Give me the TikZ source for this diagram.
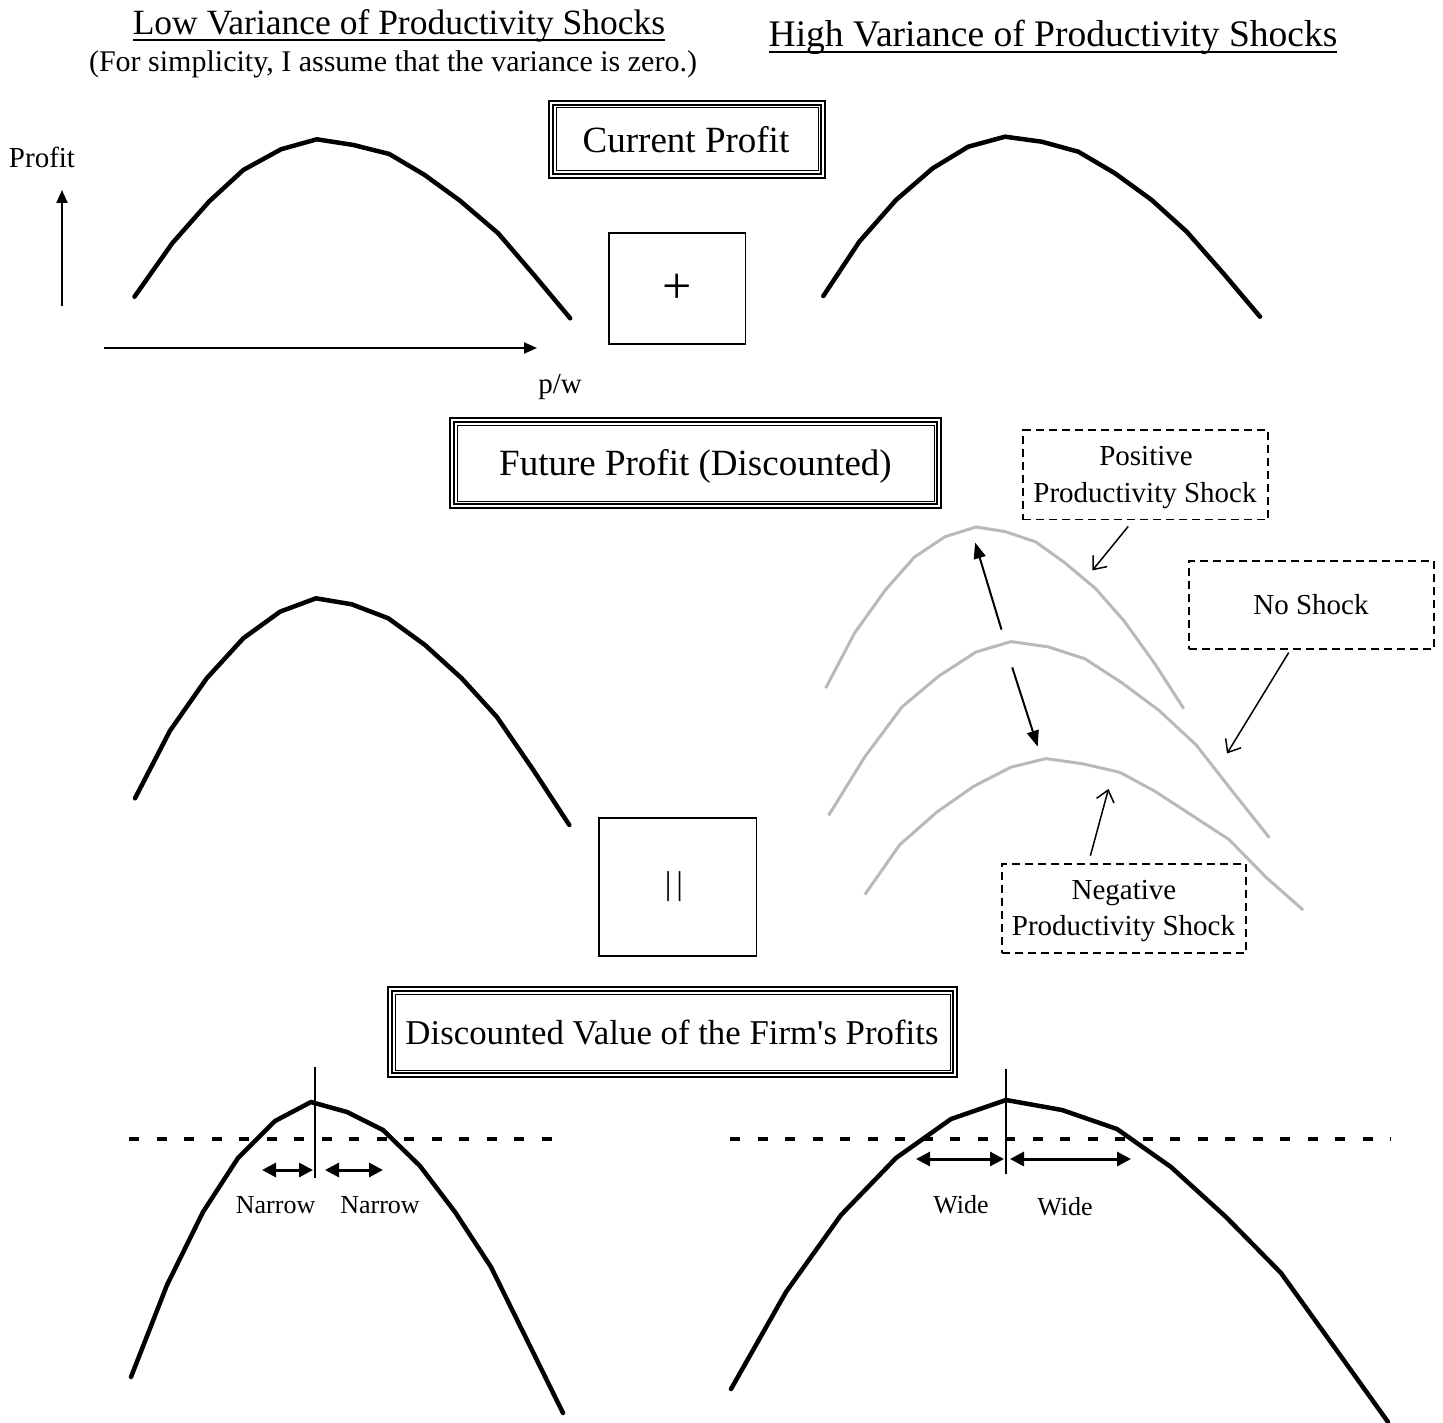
\documentclass[tikz,border=0pt]{standalone}
\usepackage{fontspec}
\setmainfont{Liberation Serif}[Ligatures=TeXOff]
\usetikzlibrary{arrows.meta}
\tikzset{
  pcurve/.style={line width=4.5pt, line join=round, line cap=round},
  gcurve/.style={line width=3pt, draw={rgb,255:red,185;green,185;blue,185}},
  txt/.style={inner sep=0pt, outer sep=0pt, anchor=base},
  lbl/.style={txt, font=\fontsize{29}{35}\selectfont},
  smalllbl/.style={txt, font=\fontsize{26}{31}\selectfont},
  tribox/.style={inner sep=0pt, outer sep=0pt, minimum width=#1},
  plainbox/.style={draw, line width=1.5pt, inner sep=0pt, outer sep=0pt},
  dbox/.style={draw, line width=1.5pt, dash pattern=on 8pt off 5pt, inner sep=0pt, outer sep=0pt},
  axisarrow/.style={line width=2pt, -{Triangle[length=13pt,width=11pt]}},
  shiftarrow/.style={line width=2pt, -{Triangle[length=16pt,width=12pt]}},
  ptr/.style={line width=1.5pt, -{Straight Barb[length=11pt,width=18pt]}},
  spanarrow/.style={line width=3pt, {Triangle[length=14pt,width=14pt]}-{Triangle[length=14pt,width=14pt]}},
  vmark/.style={line width=2pt},
  levelline/.style={line width=4.5pt, dash pattern=on 10pt off 17.5pt},
}
\begin{document}
\begin{tikzpicture}[x=1pt, y=-1pt]
\useasboundingbox (0,0) rectangle (1443,1423);

% titles
\node[txt, font=\fontsize{35.5}{42}\selectfont] (lt) at (399,35) {Low Variance of Productivity Shocks};
\draw[line width=1.5pt] ([yshift=-5pt]lt.base west) -- ([yshift=-5pt]lt.base east);
\node[txt, font=\fontsize{30}{35}\selectfont] (st) at (393,72) {(For simplicity, I assume that the variance is zero.)};
\node[txt, font=\fontsize{37.5}{44}\selectfont] (ht) at (1053,47) {High Variance of Productivity Shocks};
\draw[line width=1.5pt] ([yshift=-5pt]ht.base west) -- ([yshift=-5pt]ht.base east);

% triple-frame boxes
\node[tribox=278pt, minimum height=79pt] (cp) at (687,139.5) {};
\node[tribox=493pt, minimum height=92pt] (fp) at (695.5,463) {};
\node[tribox=571pt, minimum height=92pt] (dv) at (672.5,1032) {};
\foreach \n in {cp,fp,dv}{
  \draw[line width=2.3pt] ([shift={(1,1)}]\n.north west) rectangle ([shift={(-1,-1)}]\n.south east);
  \draw[line width=2pt] ([shift={(4.6,4.6)}]\n.north west) rectangle ([shift={(-4.6,-4.6)}]\n.south east);
  \draw[line width=1pt] ([shift={(8,8)}]\n.north west) rectangle ([shift={(-8,-8)}]\n.south east);
}
\node[txt, font=\fontsize{37}{44}\selectfont] (cpt) at (686,153) {Current Profit};
\node[txt, font=\fontsize{37}{44}\selectfont] (fpt) at (695.5,475) {Future Profit (Discounted)};
\node[txt, font=\fontsize{34.8}{42}\selectfont] (dvt) at (672,1044) {Discounted Value of the Firm's Profits};

% operator boxes
\node[plainbox, minimum width=136.5pt, minimum height=111pt] (plus) at (677.25,288.5) {};
\node[txt, font=\fontsize{52}{60}\selectfont, anchor=center] (plust) at (677,289) {+};
\node[plainbox, minimum width=157.5pt, minimum height=138pt] (eq) at (677.75,887) {};
\node[txt, font=\fontsize{33}{38}\selectfont, anchor=center] (eqt) at (674,887) {|\hspace{5pt}|};

% axes
\node[lbl] (profit) at (42,168) {Profit};
\node[lbl] (pw) at (560,393) {p/w};
\coordinate (ay0) at (62,306);
\coordinate (ay1) at (62,190);
\coordinate (ax0) at (104,348);
\coordinate (ax1) at (537,348);
\draw[axisarrow] (ay0) -- (ay1);
\draw[axisarrow] (ax0) -- (ax1);

% black profit curves
\draw[pcurve] (134.5,296.7) -- (172.2,243.3) -- (208.9,201.7) -- (243.3,170) -- (281,149.3) -- (316.8,139.3) -- (353.5,145) -- (389.3,154) -- (424.7,175) -- (460,200.7) -- (498.2,233.3) -- (534,275) -- (570.2,318.3);
\draw[pcurve] (823.3,296) -- (859.3,241.7) -- (896,200) -- (932.7,168.3) -- (968.3,146.7) -- (1005,136.7) -- (1041.7,141.7) -- (1078.3,151.7) -- (1115,173.3) -- (1151.7,200) -- (1186.7,231.7) -- (1223.3,273.3) -- (1260,316.7);
\draw[pcurve] (135,798.3) -- (170,730.7) -- (206.7,678.3) -- (243.3,638.3) -- (280,611.7) -- (316,598.3) -- (351.7,604.3) -- (388.3,618.3) -- (425,645) -- (461.7,678.3) -- (496.7,716.7) -- (533.3,770) -- (569.3,825);
\draw[pcurve] (131,1377) -- (167,1285) -- (203,1212) -- (238,1158) -- (275,1121) -- (311,1102) -- (347,1112) -- (383,1130) -- (420,1166) -- (455,1212) -- (491,1267) -- (527,1340) -- (563,1413);
\draw[pcurve] (731,1389) -- (786,1292) -- (841,1215) -- (896,1158) -- (951,1119) -- (1006,1100) -- (1062,1110) -- (1117,1129) -- (1171,1167) -- (1226,1217) -- (1281,1273) -- (1335,1348) -- (1388,1422);

% grey shock curves
\draw[gcurve] (825.7,688.1) -- (854.6,633.0) -- (885.4,590.0) -- (914.2,557.3) -- (945.1,536.7) -- (976.0,527.0) -- (1004.8,531.5) -- (1035.6,541.8) -- (1064.4,562.5) -- (1095.3,588.3) -- (1124.1,621.0) -- (1155.0,664.0) -- (1183.8,708.7);
\draw[gcurve] (828.6,815.4) -- (864.8,756.9) -- (901.9,707.0) -- (938.9,676.0) -- (976.0,652.0) -- (1010.9,641.6) -- (1048.0,646.8) -- (1085.0,658.8) -- (1122.0,682.9) -- (1159.1,710.5) -- (1196.1,744.9) -- (1231.1,789.6) -- (1269.4,837.8);
\draw[gcurve] (864.8,894.6) -- (899.8,844.7) -- (936.9,812.0) -- (973.9,786.2) -- (1010.9,767.2) -- (1045.9,758.6) -- (1083.0,763.8) -- (1120.0,772.4) -- (1155.0,791.3) -- (1192.0,815.4) -- (1229.0,839.5) -- (1266.1,877.3) -- (1303.1,910.0);

% shift arrows
\coordinate (up0) at (1001.5,629.6);
\coordinate (up1) at (975.1,542.5);
\coordinate (dn0) at (1012.2,667.4);
\coordinate (dn1) at (1037.7,746.6);
\draw[shiftarrow] (up0) -- (up1);
\draw[shiftarrow] (dn0) -- (dn1);

% dashed label boxes
\node[dbox, minimum width=245pt, minimum height=89.5pt] (pos) at (1145.5,474.75) {};
\node[lbl] (post1) at (1146,465.5) {Positive};
\node[lbl] (post2) at (1145,502.5) {Productivity Shock};
\node[dbox, minimum width=245pt, minimum height=88pt] (nos) at (1311.5,605) {};
\node[lbl] (nost) at (1311,614) {No Shock};
\node[dbox, minimum width=244pt, minimum height=89pt] (neg) at (1124,908.5) {};
\node[lbl] (negt1) at (1124,899.5) {Negative};
\node[lbl] (negt2) at (1123.5,935) {Productivity Shock};

\coordinate (pp0) at (1128.2,526.4);
\coordinate (pp1) at (1092.4,570.4);
\coordinate (np0) at (1288.7,652.6);
\coordinate (np1) at (1227,753.5);
\coordinate (gp0) at (1090.4,855.7);
\coordinate (gp1) at (1108.5,788.9);
\draw[ptr] (pp0) -- (pp1);
\draw[ptr] (np0) -- (np1);
\draw[ptr] (gp0) -- (gp1);

% bottom: levels and spans
\coordinate (l0) at (129,1139);
\coordinate (l1) at (565,1139);
\coordinate (r0) at (730,1139);
\coordinate (r1) at (1391,1139);
\draw[levelline] (l0) -- (l1);
\draw[levelline] (r0) -- (r1);
\coordinate (lm0) at (315,1067);
\coordinate (lm1) at (315,1178);
\coordinate (rm0) at (1006,1069);
\coordinate (rm1) at (1006,1174);
\draw[vmark] (lm0) -- (lm1);
\draw[vmark] (rm0) -- (rm1);

\coordinate (na0) at (262,1170);
\coordinate (na1) at (313,1170);
\coordinate (nb0) at (325,1170);
\coordinate (nb1) at (383,1170);
\draw[spanarrow] (na0) -- (na1);
\draw[spanarrow] (nb0) -- (nb1);
\node[smalllbl] (nl1) at (275.6,1213) {Narrow};
\node[smalllbl] (nl2) at (380,1213) {Narrow};

\coordinate (wa0) at (916,1159);
\coordinate (wa1) at (1004,1159);
\coordinate (wb0) at (1010,1159);
\coordinate (wb1) at (1131,1159);
\draw[spanarrow] (wa0) -- (wa1);
\draw[spanarrow] (wb0) -- (wb1);
\node[smalllbl] (wl1) at (961,1213) {Wide};
\node[smalllbl] (wl2) at (1065,1215) {Wide};
\end{tikzpicture}
\end{document}
